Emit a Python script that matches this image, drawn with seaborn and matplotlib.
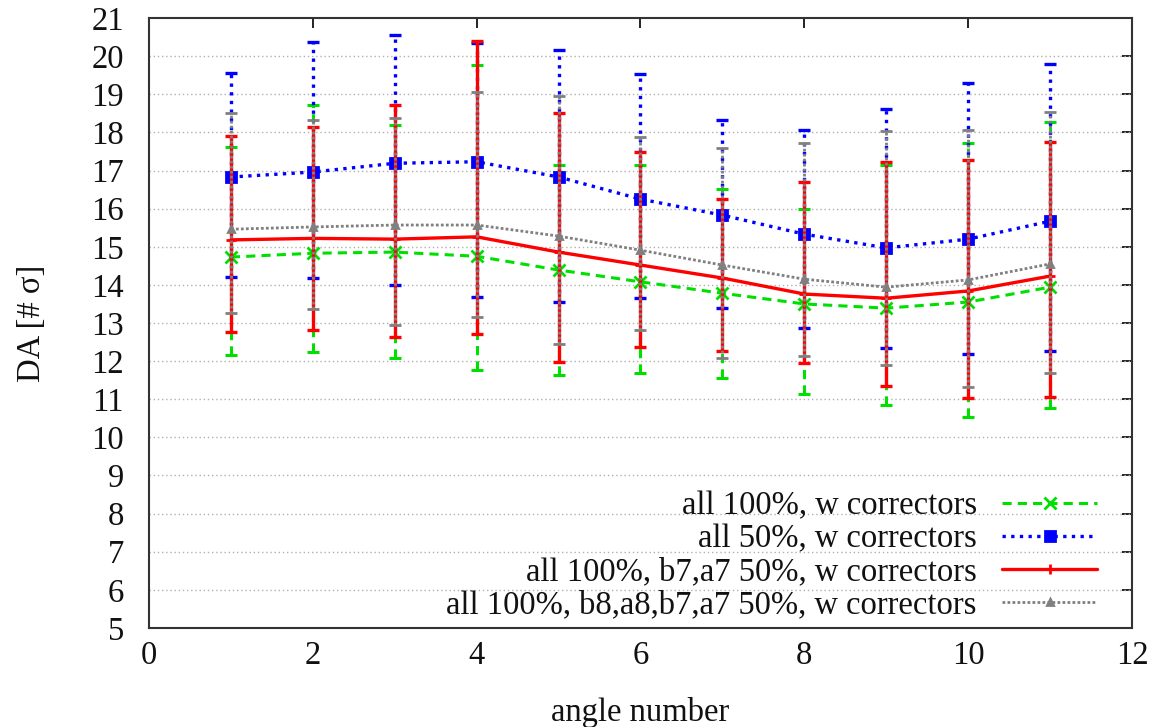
import numpy as np
import pandas as pd
import matplotlib
matplotlib.use("Agg")
import matplotlib.pyplot as plt
from matplotlib.lines import Line2D
import seaborn as sns

# values
angles = [1, 2, 3, 4, 5, 6, 7, 8, 9, 10, 11]

green_y = [14.73, 14.83, 14.86, 14.75, 14.39, 14.08, 13.78, 13.50, 13.39, 13.55, 13.94]
green_hi = [17.62, 18.72, 18.20, 19.77, 17.14, 17.14, 16.51, 16.00, 17.14, 17.72, 18.27]
green_lo = [12.16, 12.24, 12.08, 11.77, 11.64, 11.70, 11.55, 11.13, 10.85, 10.54, 10.77]

blue_y = [16.83, 16.96, 17.19, 17.23, 16.83, 16.25, 15.83, 15.33, 14.97, 15.20, 15.67]
blue_hi = [19.56, 20.37, 20.55, 20.35, 20.16, 19.53, 18.32, 18.06, 18.62, 19.30, 19.80]
blue_lo = [14.21, 14.18, 14.00, 13.68, 13.55, 13.65, 13.40, 12.87, 12.34, 12.20, 12.27]

red_y = [15.18, 15.22, 15.20, 15.26, 14.86, 14.52, 14.18, 13.76, 13.65, 13.84, 14.23]
red_hi = [17.90, 18.14, 18.72, 20.40, 18.50, 17.49, 16.25, 16.70, 17.23, 17.27, 17.75]
red_lo = [12.76, 12.82, 12.63, 12.71, 11.98, 12.37, 12.27, 11.95, 11.35, 11.03, 11.06]

gray_y = [15.46, 15.52, 15.57, 15.57, 15.28, 14.91, 14.52, 14.15, 13.94, 14.13, 14.55]
gray_hi = [18.50, 18.32, 18.37, 19.06, 18.95, 17.88, 17.58, 17.72, 18.04, 18.06, 18.53]
gray_lo = [13.26, 13.36, 12.95, 13.15, 12.45, 12.82, 12.08, 12.14, 11.90, 11.32, 11.68]

labels = [
    "all 100%, w correctors",
    "all 50%, w correctors",
    "all 100%, b7,a7 50%, w correctors",
    "all 100%, b8,a8,b7,a7 50%, w correctors",
]

sns.set_theme(style="white")
plt.rcParams["font.family"] = ["Liberation Serif", "DejaVu Serif"]

fig = plt.figure(figsize=(11.58, 7.27), dpi=100)
ax = fig.add_axes([0.1287, 0.1362, 0.8488, 0.8390])

series = [
    (green_y, green_lo, green_hi, "#00e000", (0, (3, 2)), "x", 8, 2.2),
    (blue_y, blue_lo, blue_hi, "#0000ff", (0, (1, 1.6)), "s", 7, 2.4),
    (red_y, red_lo, red_hi, "#ff0000", "-", "+", 7, 2.4),
    (gray_y, gray_lo, gray_hi, "#808080", (0, (1, 0.8)), "^", 5, 2.0),
]

handles = []
for i, (y, lo, hi, col, ls, mk, ms, lw) in enumerate(series):
    y = np.array(y)
    err = [y - np.array(lo), np.array(hi) - y]
    eb = ax.errorbar(angles, y, yerr=err, fmt="none", ecolor=col,
                     elinewidth=lw, capsize=4, capthick=lw, zorder=2 + i)
    eb[2][0].set_linestyle(ls)
    df = pd.DataFrame({"angle": angles, "da": y})
    sns.lineplot(data=df, x="angle", y="da", ax=ax, color=col, linestyle=ls,
                 linewidth=lw, marker=mk, markersize=ms, markeredgewidth=2,
                 markeredgecolor=col, zorder=2 + i)
    handles.append(Line2D([0, 1, 2], [0, 0, 0], color=col, linestyle=ls, linewidth=lw,
                          marker=mk, markersize=ms, markeredgewidth=2,
                          markevery=[1], markeredgecolor=col))

ax.set_xlim(0, 12)
ax.set_ylim(5, 21)
ax.set_xticks(range(0, 13, 2))
ax.set_yticks(range(5, 22))
for yv in range(6, 21):
    ax.axhline(yv, color="#b0b0b0", linestyle=(0, (1, 2)), linewidth=1, zorder=1)

for s in ax.spines.values():
    s.set_color("#333333")
    s.set_linewidth(1.5)
ax.tick_params(axis="both", direction="in", length=7, width=1.3,
               labelsize=23.5, colors="#111111", top=True, right=True)
ax.tick_params(axis="y", pad=18, labelright=False)
ax.tick_params(axis="x", pad=9, labeltop=False)

ax.set_xlabel("angle number", fontsize=23.5, labelpad=19, color="#111111")
ax.set_ylabel("DA [# σ]", fontsize=23.5, labelpad=32, color="#111111")

leg = ax.legend(handles, labels, loc="lower right", bbox_to_anchor=(0.9644, 0.012),
                frameon=False, markerfirst=False, fontsize=23.5, handlelength=2.9,
                handletextpad=0.78, labelspacing=0.08, borderpad=0, borderaxespad=0)
for t in leg.get_texts():
    t.set_color("#111111")

fig.savefig("out.png", dpi=100)
